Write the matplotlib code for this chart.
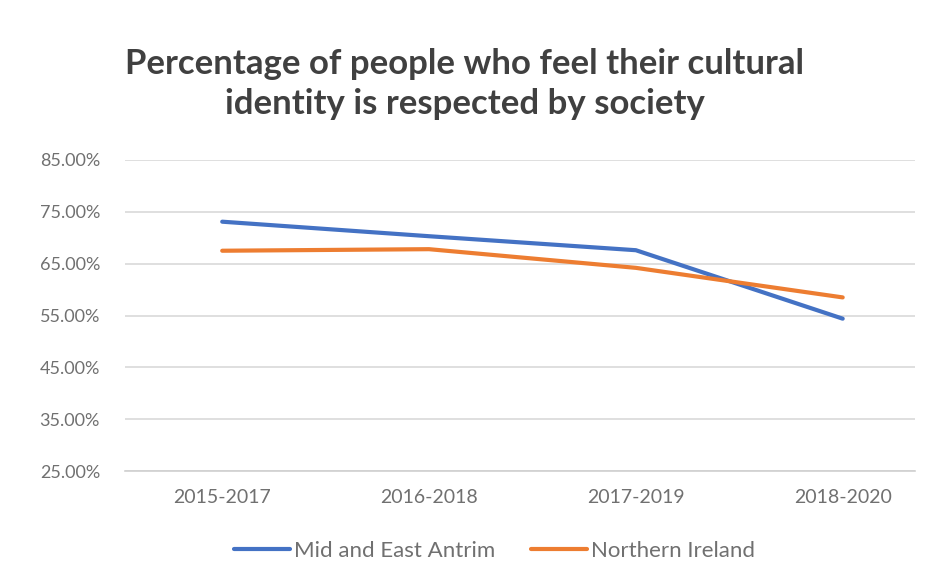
import matplotlib
matplotlib.use("Agg")
import matplotlib.pyplot as plt
from matplotlib.ticker import FuncFormatter

# survey periods and share of respondents (%)
periods = ["2015-2017", "2016-2018", "2017-2019", "2018-2020"]
mid_east_antrim = [73.1, 70.3, 67.6, 54.4]
northern_ireland = [67.5, 67.8, 64.2, 58.5]
y_ticks = [25, 35, 45, 55, 65, 75, 85]

plt.rcParams['font.family'] = ['Lato', 'DejaVu Sans']

fig = plt.figure(figsize=(9.35, 5.86), dpi=100)
ax = fig.add_axes([0.1337, 0.196, 0.845, 0.531])

x = range(len(periods))
ax.plot(x, mid_east_antrim, color="#4472C4", lw=3.0, solid_capstyle="round",
        label="Mid and East Antrim", zorder=3)
ax.plot(x, northern_ireland, color="#ED7D31", lw=3.0, solid_capstyle="round",
        label="Northern Ireland", zorder=3)

ax.set_xlim(-0.47, 3.35)
ax.set_ylim(25, 85)
ax.set_yticks(y_ticks)
ax.yaxis.set_major_formatter(FuncFormatter(lambda v, p: f"{v:.2f}%"))
ax.set_xticks(list(x))
ax.set_xticklabels(periods)

ax.grid(axis="y", color="#d9d9d9", lw=1.2)
for s in ["top", "right", "left"]:
    ax.spines[s].set_visible(False)
ax.spines["bottom"].set_color("#d0d0d0")
ax.spines["bottom"].set_linewidth(1.2)
ax.tick_params(axis="both", length=0, colors="#707070", labelsize=14)
ax.tick_params(axis="y", labelsize=13, pad=18)
ax.tick_params(axis="x", pad=13)

fig.text(0.497, 0.856, "Percentage of people who feel their cultural\nidentity is respected by society",
         ha="center", va="center", fontsize=25, fontweight="bold", color="#404040",
         linespacing=1.3)

fig.legend(loc="center", bbox_to_anchor=(0.529, 0.06), ncol=2, frameon=False,
           fontsize=16, handlelength=2.5, handletextpad=0.2, columnspacing=1.6,
           labelcolor="#707070")

fig.savefig("out.png", dpi=100, facecolor="white")
